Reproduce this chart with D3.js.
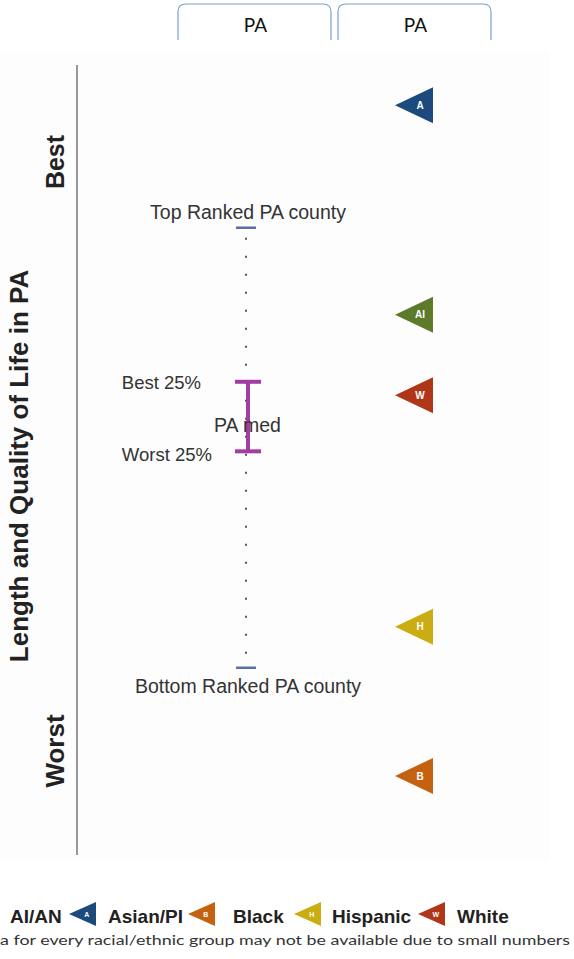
<!DOCTYPE html>
<html>
<head>
<meta charset="utf-8">
<script src="https://cdn.jsdelivr.net/npm/d3@7"></script>
<style>
  body { margin: 0; background: #fff; }
  svg { display: block; }
</style>
</head>
<body>
<div id="chart"></div>
<script>
// Données : position sur l'échelle (0 = meilleur, 100 = pire)
const groups = ["Asian/PI", "AI/AN", "White", "Hispanic", "Black"];
const groupCodes = ["A", "AI", "W", "H", "B"];
const groupValues = [5.1, 31.6, 41.8, 71.1, 90.0];
const groupColors = ["#1c4a7c", "#5c7a2a", "#b0361a", "#c9ad12", "#c4620f"];

const countyLabels = ["Top Ranked PA county", "Bottom Ranked PA county"];
const countyValues = [20.6, 76.3];
const quartileLabels = ["Best 25%", "Worst 25%"];
const quartileValues = [40.1, 48.9];
const medianLabel = "PA med";
const medianValue = 44.8;

const legendNames = ["AI/AN", "Asian/PI", "Black", "Hispanic", "White"];
const legendCodes = [null, "A", "B", "H", "W"];
const legendColors = [null, "#1c4a7c", "#c4620f", "#c9ad12", "#b0361a"];

const tabLabels = ["PA", "PA"];

const width = 574;
const height = 959;
const font = "Arial, 'Liberation Sans', sans-serif";

const svg = d3.select("#chart")
  .append("svg")
  .attr("width", width)
  .attr("height", height);

// fond très léger du panneau
svg.append("rect")
  .attr("x", 0).attr("y", 50)
  .attr("width", 550).attr("height", 812)
  .attr("fill", "#fdfdfd");

// Onglets en haut
const tabX = [178, 338];
tabLabels.forEach((t, i) => {
  const x0 = tabX[i], x1 = tabX[i] + 153, r = 8;
  svg.append("path")
    .attr("d", `M${x0},40 L${x0},${4 + r} Q${x0},4 ${x0 + r},4 L${x1 - r},4 Q${x1},4 ${x1},${4 + r} L${x1},40`)
    .attr("fill", "none")
    .attr("stroke", "#7a9fd0")
    .attr("stroke-width", 1.2);
  svg.append("text")
    .attr("x", (x0 + x1) / 2 + 1)
    .attr("y", 32)
    .attr("text-anchor", "middle")
    .style("font-family", "Lato, 'Open Sans', sans-serif")
    .style("font-size", "19px")
    .attr("fill", "#111")
    .text(t);
});

// Échelle verticale
const y = d3.scaleLinear().domain([0, 100]).range([65, 855]);

// Axe gauche (ligne grise)
svg.append("line")
  .attr("x1", 77).attr("x2", 77)
  .attr("y1", y(0)).attr("y2", y(100))
  .attr("stroke", "#999")
  .attr("stroke-width", 2);

// Titres verticaux
const vText = (x, yy, txt, size) => svg.append("text")
  .attr("transform", `translate(${x},${yy}) rotate(-90)`)
  .attr("text-anchor", "middle")
  .style("font-family", font)
  .style("font-weight", "bold")
  .style("font-size", size)
  .attr("fill", "#222")
  .text(txt);

vText(64, 162, "Best", "25px");
vText(64, 751, "Worst", "26px");
vText(28, 466, "Length and Quality of Life in PA", "26px");

// Ligne pointillée entre meilleur et pire comté
const cx = 246;
svg.append("line")
  .attr("x1", cx).attr("x2", cx)
  .attr("y1", y(countyValues[0])).attr("y2", y(countyValues[1]))
  .attr("stroke", "#556")
  .attr("stroke-width", 2)
  .attr("stroke-dasharray", "2,16")
  .attr("stroke-dashoffset", -10);

// Marques meilleur / pire comté
svg.selectAll(".county")
  .data(countyValues)
  .enter()
  .append("line")
  .attr("x1", cx - 10).attr("x2", cx + 10)
  .attr("y1", (d) => y(d)).attr("y2", (d) => y(d))
  .attr("stroke", "#5b6ea8")
  .attr("stroke-width", 2.5);

svg.selectAll(".countyLabel")
  .data(countyValues)
  .enter()
  .append("text")
  .attr("x", 248)
  .attr("y", (d, i) => y(d) + (i === 0 ? -9 : 25))
  .attr("text-anchor", "middle")
  .style("font-family", font)
  .style("font-size", "19.5px")
  .attr("fill", "#333")
  .text((d, i) => countyLabels[i]);

// Barre quartiles (violet)
const purple = "#a23da3";
const bx = 248;
svg.append("line")
  .attr("x1", bx).attr("x2", bx)
  .attr("y1", y(quartileValues[0])).attr("y2", y(quartileValues[1]))
  .attr("stroke", purple)
  .attr("stroke-width", 4);
svg.selectAll(".cap")
  .data(quartileValues)
  .enter()
  .append("line")
  .attr("x1", bx - 13).attr("x2", bx + 13)
  .attr("y1", (d) => y(d)).attr("y2", (d) => y(d))
  .attr("stroke", purple)
  .attr("stroke-width", 4);

svg.selectAll(".qLabel")
  .data(quartileValues)
  .enter()
  .append("text")
  .attr("x", (d, i) => (i === 0 ? 201 : 212))
  .attr("y", (d, i) => y(d) + (i === 0 ? 7 : 10))
  .attr("text-anchor", "end")
  .style("font-family", font)
  .style("font-size", "18.5px")
  .attr("fill", "#333")
  .text((d, i) => quartileLabels[i]);

svg.append("text")
  .attr("x", 214)
  .attr("y", y(medianValue) + 13)
  .style("font-family", font)
  .style("font-size", "19.5px")
  .attr("fill", "#333")
  .text(medianLabel);

// Triangles des groupes
function triangle(g, tipX, cy, w, h, color, code, fs) {
  g.append("path")
    .attr("d", `M${tipX},${cy} L${tipX + w},${cy - h / 2} L${tipX + w},${cy + h / 2} Z`)
    .attr("fill", color);
  if (code) {
    g.append("text")
      .attr("x", tipX + w * 0.66)
      .attr("y", cy + fs * 0.36)
      .attr("text-anchor", "middle")
      .style("font-family", font)
      .style("font-weight", "bold")
      .style("font-size", fs + "px")
      .attr("fill", "#fff")
      .text(code);
  }
}

groupValues.forEach((v, i) => {
  triangle(svg.append("g").attr("class", "group"), 395, y(v), 38, 36, groupColors[i], groupCodes[i], 10);
});

// Légende
const legendY = 915;
const legendTextX = [10, 108, 233, 332, 457];
const legendTriX = [null, 69, 188, 294, 418];
legendNames.forEach((n, i) => {
  if (legendTriX[i] !== null) {
    triangle(svg.append("g"), legendTriX[i], legendY - 1, 27, 24, legendColors[i], legendCodes[i], 7);
  }
  svg.append("text")
    .attr("x", legendTextX[i])
    .attr("y", legendY + 8)
    .style("font-family", font)
    .style("font-weight", "bold")
    .style("font-size", "19px")
    .attr("fill", "#222")
    .text(n);
});

svg.append("text")
  .attr("x", 0)
  .attr("y", 945)
  .attr("textLength", 570)
  .attr("lengthAdjust", "spacingAndGlyphs")
  .style("font-family", "Lato, 'Open Sans', sans-serif")
  .style("font-size", "13.5px")
  .attr("fill", "#333")
  .text("a for every racial/ethnic group may not be available due to small numbers");
</script>
</body>
</html>
